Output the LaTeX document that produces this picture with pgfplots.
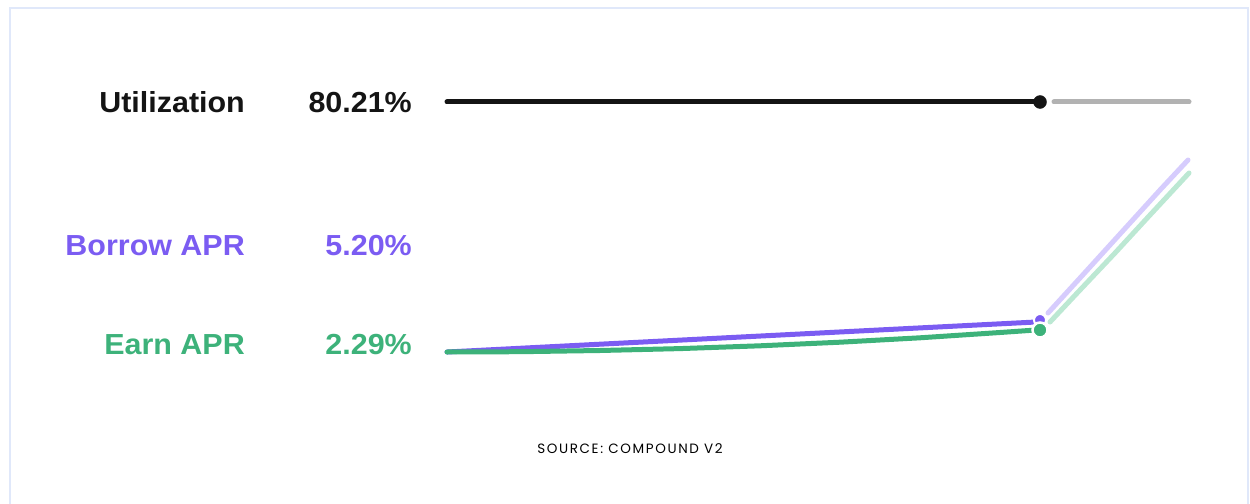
\documentclass[border=0pt]{standalone}
\usepackage{pgfplots}
\pgfplotsset{compat=1.18}
\usepackage{fontspec}
\setmainfont{Liberation Sans}
\newfontfamily\lblfont[FakeStretch=1.05]{Liberation Sans}
\newfontfamily\srcfont[LetterSpace=12]{Poppins}
\definecolor{bpurple}{HTML}{7B5CF2}
\definecolor{lpurple}{HTML}{D6CCFD}
\definecolor{egreen}{HTML}{3DB27A}
\definecolor{lgreen}{HTML}{BCE8D3}
\definecolor{ublack}{HTML}{141414}
\definecolor{ugray}{HTML}{B2B2B2}
\definecolor{frame}{HTML}{E0E8FA}
\begin{document}
\begin{tikzpicture}
\begin{axis}[
  scale only axis, width=1250bp, height=504bp,
  xmin=0, xmax=1250, ymin=0, ymax=504, y dir=reverse,
  hide axis, clip=false, at={(0,0)}, anchor=south west,
  line cap=round,
]
% frame
\addplot[frame, line width=2bp] coordinates {(10,510) (10,8) (1248,8) (1248,510)};
% utilization
\addplot[ublack, line width=5bp] coordinates {(447,102) (1036,102)};
\addplot[ugray, line width=5bp] coordinates {(1054,102) (1189,102)};
\addplot[only marks, mark=*, mark size=6.5bp, ublack] coordinates {(1040,102)};
% projected (light) segments
\addplot[lpurple, line width=5bp] coordinates {(1048,313) (1080,278) (1120,234) (1160,190) (1188,160)};
\addplot[lgreen, line width=5bp] coordinates {(1050,322) (1080,290) (1115,253) (1150,215) (1189,173)};
% borrow APR
\addplot[bpurple, line width=5bp] coordinates {(447,352) (600,344.2) (800,334) (1036,322)};
% earn APR
\addplot[egreen, line width=5bp] coordinates {(447,352) (520,351.7) (600,350.5) (680,348.6) (760,345.8) (840,342.2) (920,337.8) (1000,332.5) (1036,330)};
% dots
\addplot[only marks, mark=*, mark size=6bp, bpurple, mark options={draw=white, line width=2bp}] coordinates {(1040,320)};
\addplot[only marks, mark=*, mark size=7.5bp, egreen, mark options={draw=white, line width=2.5bp}] coordinates {(1040,330)};
% labels
\node[anchor=base east, inner sep=0, font=\lblfont\fontsize{29bp}{31bp}\selectfont\bfseries, text=ublack] at (axis cs:245,112) {Utilization};
\node[anchor=base east, inner sep=0, font=\lblfont\fontsize{29bp}{31bp}\selectfont\bfseries, text=ublack] at (axis cs:412,112) {80.21\%};
\node[anchor=base east, inner sep=0, font=\lblfont\fontsize{29bp}{31bp}\selectfont\bfseries, text=bpurple] at (axis cs:245,255) {Borrow APR};
\node[anchor=base east, inner sep=0, font=\lblfont\fontsize{29bp}{31bp}\selectfont\bfseries, text=bpurple] at (axis cs:412,255) {5.20\%};
\node[anchor=base east, inner sep=0, font=\lblfont\fontsize{29bp}{31bp}\selectfont\bfseries, text=egreen] at (axis cs:245,354) {Earn APR};
\node[anchor=base east, inner sep=0, font=\lblfont\fontsize{29bp}{31bp}\selectfont\bfseries, text=egreen] at (axis cs:412,354) {2.29\%};
\node[anchor=base, inner sep=0, font=\srcfont\fontsize{13.5bp}{15bp}\selectfont, text=black] at (axis cs:630,453) {SOURCE: COMPOUND V2};
\end{axis}
\pgfresetboundingbox
\path (0,0) rectangle (1250bp,504bp);
\end{tikzpicture}
\end{document}
